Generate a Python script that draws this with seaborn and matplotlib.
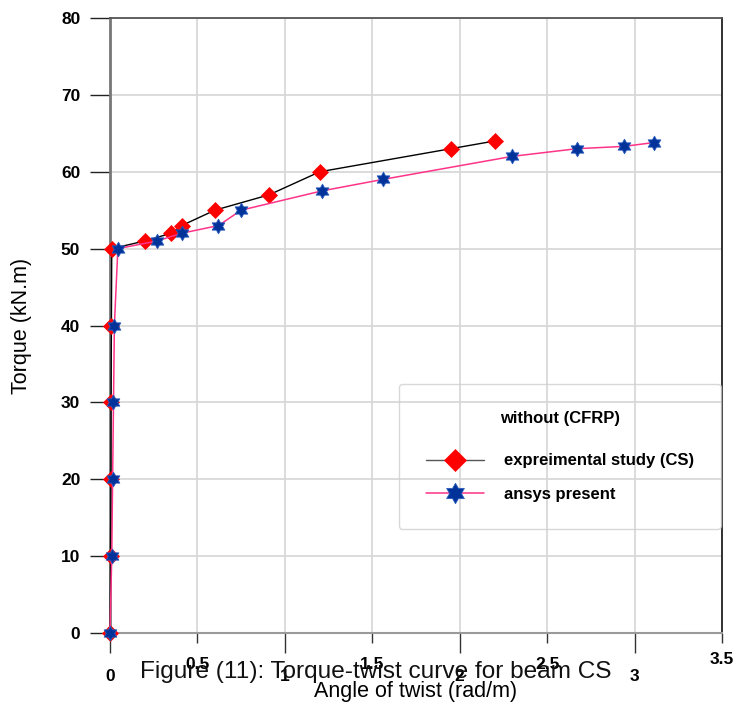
import numpy as np
import pandas as pd
import seaborn as sns
import matplotlib
matplotlib.use("Agg")
import matplotlib.pyplot as plt
from matplotlib.path import Path

# Torque-twist measurements for beam CS (without CFRP)
exp_twist = [0.0, 0.003, 0.005, 0.006, 0.008, 0.01, 0.2, 0.35, 0.41, 0.6, 0.91, 1.2, 1.95, 2.2]
exp_torque = [0, 10, 20, 30, 40, 50, 51, 52, 53, 55, 57, 60, 63, 64]

ansys_twist = [0.0, 0.01, 0.015, 0.02, 0.025, 0.045, 0.27, 0.41, 0.62, 0.75, 1.21, 1.56, 2.3, 2.67, 2.94, 3.11]
ansys_torque = [0, 10, 20, 30, 40, 50, 51, 52, 53, 55, 57.5, 59, 62, 63, 63.3, 63.8]

x_major = [0, 1, 2, 3]
x_minor = [0.5, 1.5, 2.5, 3.5]
y_ticks = [0, 10, 20, 30, 40, 50, 60, 70, 80]

legend_title = "without (CFRP)"
exp_label = "expreimental study (CS)"
ansys_label = "ansys present"
caption = "Figure (11): Torque-twist curve for beam CS"

sns.set_style("white")
plt.rcParams["font.family"] = ["Liberation Sans", "DejaVu Sans"]
plt.rcParams["text.color"] = "#000000"
plt.rcParams["axes.labelcolor"] = "#000000"
plt.rcParams["xtick.labelcolor"] = "#000000"
plt.rcParams["ytick.labelcolor"] = "#000000"

fig = plt.figure(figsize=(7.37, 7.11), dpi=100)
ax = fig.add_axes([110 / 737, 78 / 711, 612 / 737, 615 / 711])

hexagram = Path.unit_regular_star(6, 0.577)

df_exp = pd.DataFrame({"twist": exp_twist, "torque": exp_torque})
df_ans = pd.DataFrame({"twist": ansys_twist, "torque": ansys_torque})

sns.lineplot(data=df_exp, x="twist", y="torque", sort=False, estimator=None,
             color="black", linewidth=1.0, marker="D", markersize=7.8,
             markerfacecolor="#ff0000", markeredgecolor="#ff0000", markeredgewidth=0.5,
             label=exp_label, ax=ax, zorder=3, clip_on=False)
sns.lineplot(data=df_ans, x="twist", y="torque", sort=False, estimator=None,
             color="#ff3388", linewidth=1.1, marker=hexagram, markersize=10.5,
             markerfacecolor="#003399", markeredgecolor="#2a5bbf", markeredgewidth=0.6,
             label=ansys_label, ax=ax, zorder=4, clip_on=False)

ax.set_xlim(0, 3.5)
ax.set_ylim(0, 80)
ax.set_xticks(x_major)
ax.set_xticks(x_minor, minor=True)
ax.set_xticklabels([str(v) for v in x_major])
ax.set_xticklabels([str(v) for v in x_minor], minor=True)
ax.set_yticks(y_ticks)
ax.set_yticklabels([str(v) for v in y_ticks])

ax.grid(True, which="both", color="#d6d6d6", linewidth=1.2)
ax.set_axisbelow(True)

ax.tick_params(axis="x", which="major", direction="out", length=14.4, width=1.0,
               color="#333333", pad=11.5, labelsize=12.5)
ax.tick_params(axis="x", which="minor", direction="out", length=7.2, width=1.0,
               color="#333333", pad=10, labelsize=12.5)
ax.tick_params(axis="y", which="major", direction="out", length=14.4, width=1.0,
               color="#222222", pad=7, labelsize=12.5)
ax.tick_params(bottom=True, left=True, which="both")
for lab in ax.get_xticklabels(which="both") + ax.get_yticklabels():
    lab.set_fontweight("bold")
# the last half-unit label sits a little higher
ax.xaxis.get_minor_ticks()[3].set_pad(6.5)

for side, col, lw in [("left", "#777777", 2.0), ("bottom", "#9a9a9a", 1.5),
                      ("top", "#555555", 1.3), ("right", "#222222", 1.3)]:
    ax.spines[side].set_visible(True)
    ax.spines[side].set_color(col)
    ax.spines[side].set_linewidth(lw)

ax.set_xlabel("Angle of twist (rad/m)", fontsize=15.5)
ax.set_ylabel("Torque (kN.m)", fontsize=15.5)
ax.xaxis.label.set_va("center")
ax.yaxis.label.set_va("center")
ax.xaxis.set_label_coords(0.5, (633 - 692) / 615)
ax.yaxis.set_label_coords((22 - 110) / 612, 0.5)

leg = ax.legend(title=legend_title + "\n", loc="upper left",
                bbox_to_anchor=((399 - 110) / 612, (633 - 384) / 615),
                borderaxespad=0, frameon=True, fancybox=True,
                facecolor="none", edgecolor="#cfcfcf", framealpha=None,
                prop={"weight": "bold", "size": 12},
                title_fontproperties={"weight": "bold", "size": 12},
                handlelength=3.5, handletextpad=1.2, borderpad=1.6,
                labelspacing=1.12, markerscale=1.4)
leg.get_title().set_linespacing(0.5)
leg.get_frame().set_linewidth(1.0)
leg.get_lines()[0].set_color("#555555")

fig.text(376 / 737, (711 - 672) / 711, caption, ha="center", va="center",
         fontsize=17.6, color="#111111", family=["Liberation Sans", "DejaVu Sans"], zorder=10)

fig.savefig("out.png", dpi=100, facecolor="white")
